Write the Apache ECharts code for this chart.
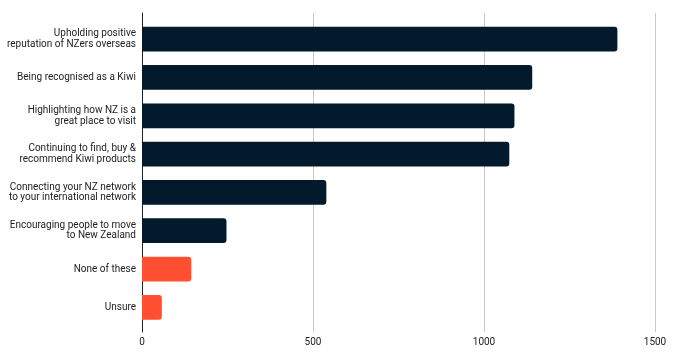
<!DOCTYPE html>
<html><head><meta charset="utf-8">
<script src="https://cdn.jsdelivr.net/npm/echarts@6/dist/echarts.min.js"></script>
<style>html,body{margin:0;padding:0;background:#fff}#c{width:677px;height:357px}</style>
</head><body><div id="c"></div>
<script>
const categories = [
  "Upholding positive\nreputation of NZers overseas",
  "Being recognised as a Kiwi",
  "Highlighting how NZ is a\ngreat place to visit",
  "Continuing to find, buy &\nrecommend Kiwi products",
  "Connecting your NZ network\nto your international network",
  "Encouraging people to move\nto New Zealand",
  "None of these",
  "Unsure"
];
const values = [1390, 1141, 1089, 1074, 539, 247, 144, 58];
const highlight = [false, false, false, false, false, false, true, true];
const xTicks = [0, 500, 1000, 1500];

const chart = echarts.init(document.getElementById('c'), null, {renderer: 'canvas'});
const xMin = xTicks[0], xMax = xTicks[xTicks.length - 1];
chart.setOption({
  animation: false,
  grid: [
    {left: 142, right: 22, top: 13, bottom: 25, containLabel: false, outerBoundsMode: 'none'},
    {left: 142, right: 22, top: 20, bottom: 30.5, containLabel: false, outerBoundsMode: 'none'}
  ],
  xAxis: [{
    gridIndex: 0, type: 'value', min: xMin, max: xMax, interval: 500,
    axisLine: {show: false}, axisTick: {show: false},
    splitLine: {lineStyle: {color: '#c8c8c8', width: 1}},
    axisLabel: {color: '#222', fontFamily: 'Roboto', fontSize: 10, margin: 5, formatter: v => String(v)}
  }, {
    gridIndex: 1, type: 'value', min: xMin, max: xMax, interval: 500, show: false
  }],
  yAxis: [{
    gridIndex: 0, type: 'category', data: categories, inverse: true,
    axisLine: {show: true, lineStyle: {color: '#222', width: 1}},
    axisTick: {show: false}, axisLabel: {show: false}, splitLine: {show: false}
  }, {
    gridIndex: 1, type: 'category', data: categories, inverse: true,
    axisLine: {show: false}, axisTick: {show: false}, splitLine: {show: false},
    axisLabel: {color: '#222', fontFamily: 'Roboto', fontSize: 10, lineHeight: 10.5, margin: 6, align: 'right'}
  }],
  series: [{
    type: 'bar', xAxisIndex: 1, yAxisIndex: 1, barWidth: '64.5%',
    data: values.map((v, i) => ({value: v, itemStyle: {color: highlight[i] ? '#FF4F32' : '#021A2B'}})),
    itemStyle: {borderRadius: [0, 3, 3, 0]}
  }]
});
</script></body></html>
